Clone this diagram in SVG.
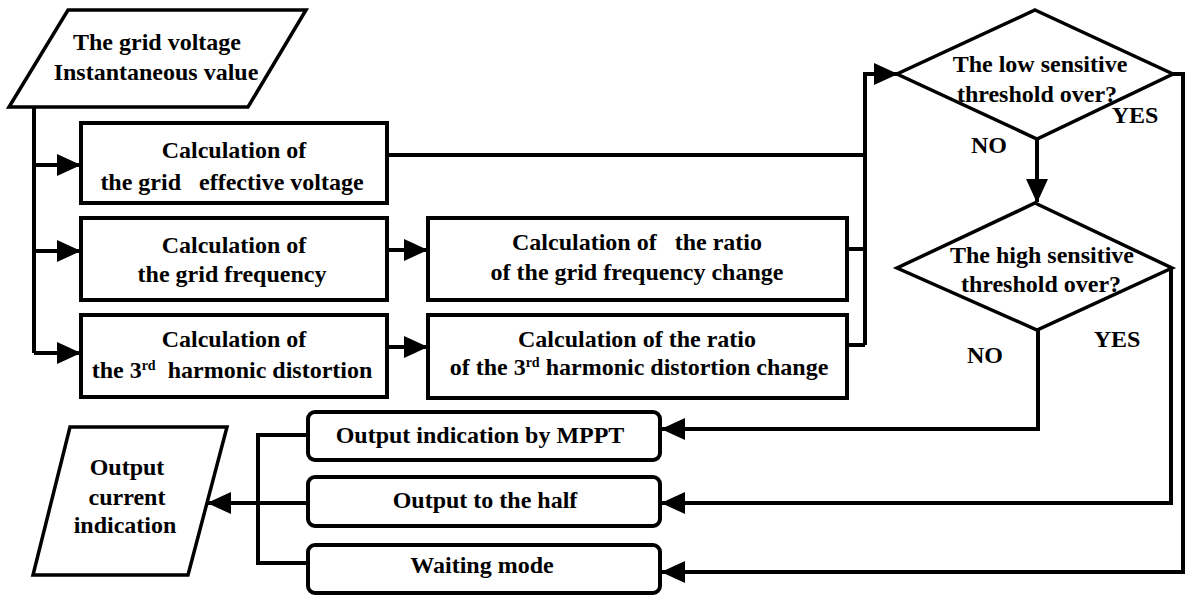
<svg xmlns="http://www.w3.org/2000/svg" width="1185" height="597" viewBox="0 0 1185 597">
<style>
.shape{fill:#fff;stroke:#000;stroke-width:4}
.thin{fill:#fff;stroke:#000;stroke-width:3.5}
.ln{fill:none;stroke:#000;stroke-width:4}
.t{font-weight:bold;font-size:24px;fill:#000;text-anchor:middle}
.sup{font-size:14px}
</style>
<defs>
<marker id="ah" markerUnits="userSpaceOnUse" markerWidth="24" markerHeight="24" refX="23" refY="12" orient="auto" viewBox="0 0 24 24">
<path d="M0,1 L24,12 L0,23 z" fill="#000"/>
</marker>
</defs>
<rect width="1185" height="597" fill="#fff"/>

<g id="connectors">
<path class="ln" d="M34,107 V353"/>
<path class="ln" d="M34,165 H80" marker-end="url(#ah)"/>
<path class="ln" d="M34,251 H80" marker-end="url(#ah)"/>
<path class="ln" d="M34,353 H80" marker-end="url(#ah)"/>
<path class="ln" d="M387,250 H427" marker-end="url(#ah)"/>
<path class="ln" d="M387,347 H427" marker-end="url(#ah)"/>
<path class="ln" d="M387,155 H865 M847,249 H865 M847,345 H865"/>
<path class="ln" d="M865,345 V74 H897" marker-end="url(#ah)"/>
<path class="ln" d="M1037,139 V202" marker-end="url(#ah)"/>
<path class="ln" d="M1173,74 H1183 V572 H662" marker-end="url(#ah)"/>
<path class="ln" d="M1171,268 V503 H662" marker-end="url(#ah)"/>
<path class="ln" d="M1038,330 V429 H662" marker-end="url(#ah)"/>
<path class="ln" d="M308,435 H258 V563 H308 M308,503 H208" marker-end="url(#ah)"/>
</g>

<g font-family="Liberation Serif, DejaVu Serif, serif">
<g id="input">
<polygon class="thin" points="68,10 306,10 248,107 9,107"/>
<text class="t" x="157" y="50">The grid voltage</text>
<text class="t" x="156" y="80">Instantaneous value</text>
</g>

<g id="calc-voltage">
<rect class="shape" x="81" y="123" width="306" height="80"/>
<text class="t" x="234" y="158">Calculation of</text>
<text class="t" x="232" y="190" xml:space="preserve">the grid   effective voltage</text>
</g>

<g id="calc-frequency">
<rect class="shape" x="81" y="218" width="306" height="82"/>
<text class="t" x="234" y="253">Calculation of</text>
<text class="t" x="232" y="282">the grid frequency</text>
</g>

<g id="calc-harmonic">
<rect class="shape" x="81" y="315" width="306" height="82"/>
<text class="t" x="234" y="347">Calculation of</text>
<text class="t" x="232" y="378" xml:space="preserve">the 3<tspan class="sup" dy="-8">rd</tspan><tspan dy="8">  harmonic distortion</tspan></text>
</g>

<g id="ratio-frequency">
<rect class="shape" x="428" y="218" width="419" height="82"/>
<text class="t" x="637" y="250" xml:space="preserve">Calculation of   the ratio</text>
<text class="t" x="637" y="280">of the grid frequency change</text>
</g>

<g id="ratio-harmonic">
<rect class="shape" x="428" y="315" width="419" height="83"/>
<text class="t" x="637" y="347">Calculation of the ratio</text>
<text class="t" x="639" y="375">of the 3<tspan class="sup" dy="-8">rd</tspan><tspan dy="8"> harmonic distortion change</tspan></text>
</g>

<g id="low-threshold">
<polygon class="thin" points="1035,10 1173,74 1037,139 897,74"/>
<text class="t" x="1040" y="72">The low sensitive</text>
<text class="t" x="1037" y="102">threshold over?</text>
<text class="t" x="1135" y="123">YES</text>
<text class="t" x="989" y="153">NO</text>
</g>

<g id="high-threshold">
<polygon class="thin" points="1035,203 1172,268 1037,330 897,268"/>
<text class="t" x="1042" y="263">The high sensitive</text>
<text class="t" x="1041" y="292">threshold over?</text>
<text class="t" x="1117" y="347">YES</text>
<text class="t" x="985" y="363">NO</text>
</g>

<g id="out-mppt">
<rect class="shape" x="308" y="412" width="352" height="48" rx="7"/>
<text class="t" x="480" y="443">Output indication by MPPT</text>
</g>

<g id="out-half">
<rect class="shape" x="308" y="477" width="352" height="49" rx="7"/>
<text class="t" x="485" y="508">Output to the half</text>
</g>

<g id="out-wait">
<rect class="shape" x="308" y="545" width="352" height="48" rx="7"/>
<text class="t" x="482" y="573">Waiting mode</text>
</g>

<g id="output">
<polygon class="thin" points="70,427 227,427 188,575 33,575"/>
<text class="t" x="127" y="475">Output</text>
<text class="t" x="127" y="505" font-weight="normal">current</text>
<text class="t" x="125" y="533">indication</text>
</g>
</g>
</svg>
